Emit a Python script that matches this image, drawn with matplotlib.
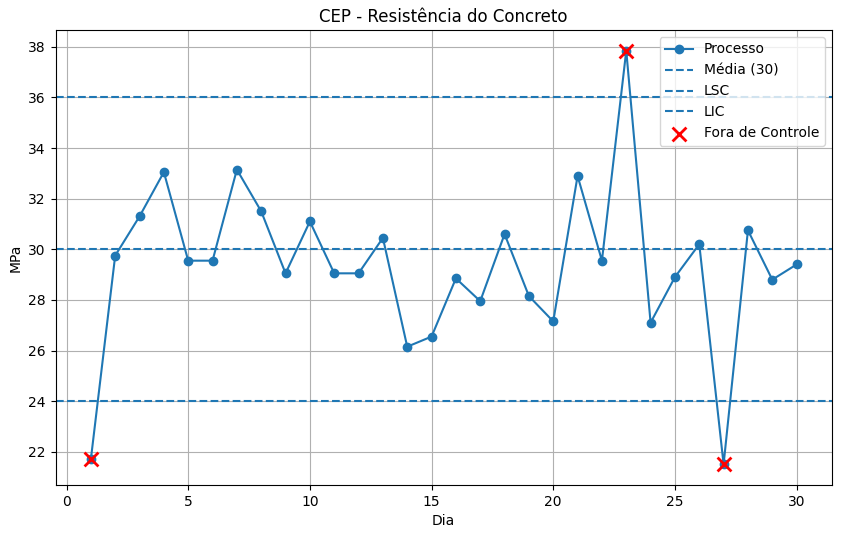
import matplotlib
matplotlib.use("Agg")
import matplotlib.pyplot as plt
import numpy as np

dias = list(range(1, 31))
resistencia = [21.7, 29.75, 31.3, 33.05, 29.55, 29.55, 33.15, 31.5, 29.05, 31.1,
               29.05, 29.05, 30.45, 26.15, 26.55, 28.85, 27.95, 30.6, 28.15, 27.15,
               32.9, 29.55, 37.85, 27.1, 28.9, 30.2, 21.5, 30.75, 28.8, 29.4]
media = 30
lsc = 36
lic = 24

fig, ax = plt.subplots(figsize=(8.42, 5.45), dpi=100)
fig.subplots_adjust(left=0.066, right=0.988, top=0.945, bottom=0.11)

ax.plot(dias, resistencia, marker='o', label='Processo')
ax.axhline(media, linestyle='--', label='Média (30)')
ax.axhline(lsc, linestyle='--', label='LSC')
ax.axhline(lic, linestyle='--', label='LIC')

x = np.array(dias)
y = np.array(resistencia)
fora = (y > lsc) | (y < lic)
ax.scatter(x[fora], y[fora], color='red', marker='x', s=100, linewidths=2,
           label='Fora de Controle', zorder=3)

ax.set_title('CEP - Resistência do Concreto')
ax.set_xlabel('Dia')
ax.set_ylabel('MPa')
ax.grid(True)
ax.legend(loc='upper right')

fig.savefig('out.png')
